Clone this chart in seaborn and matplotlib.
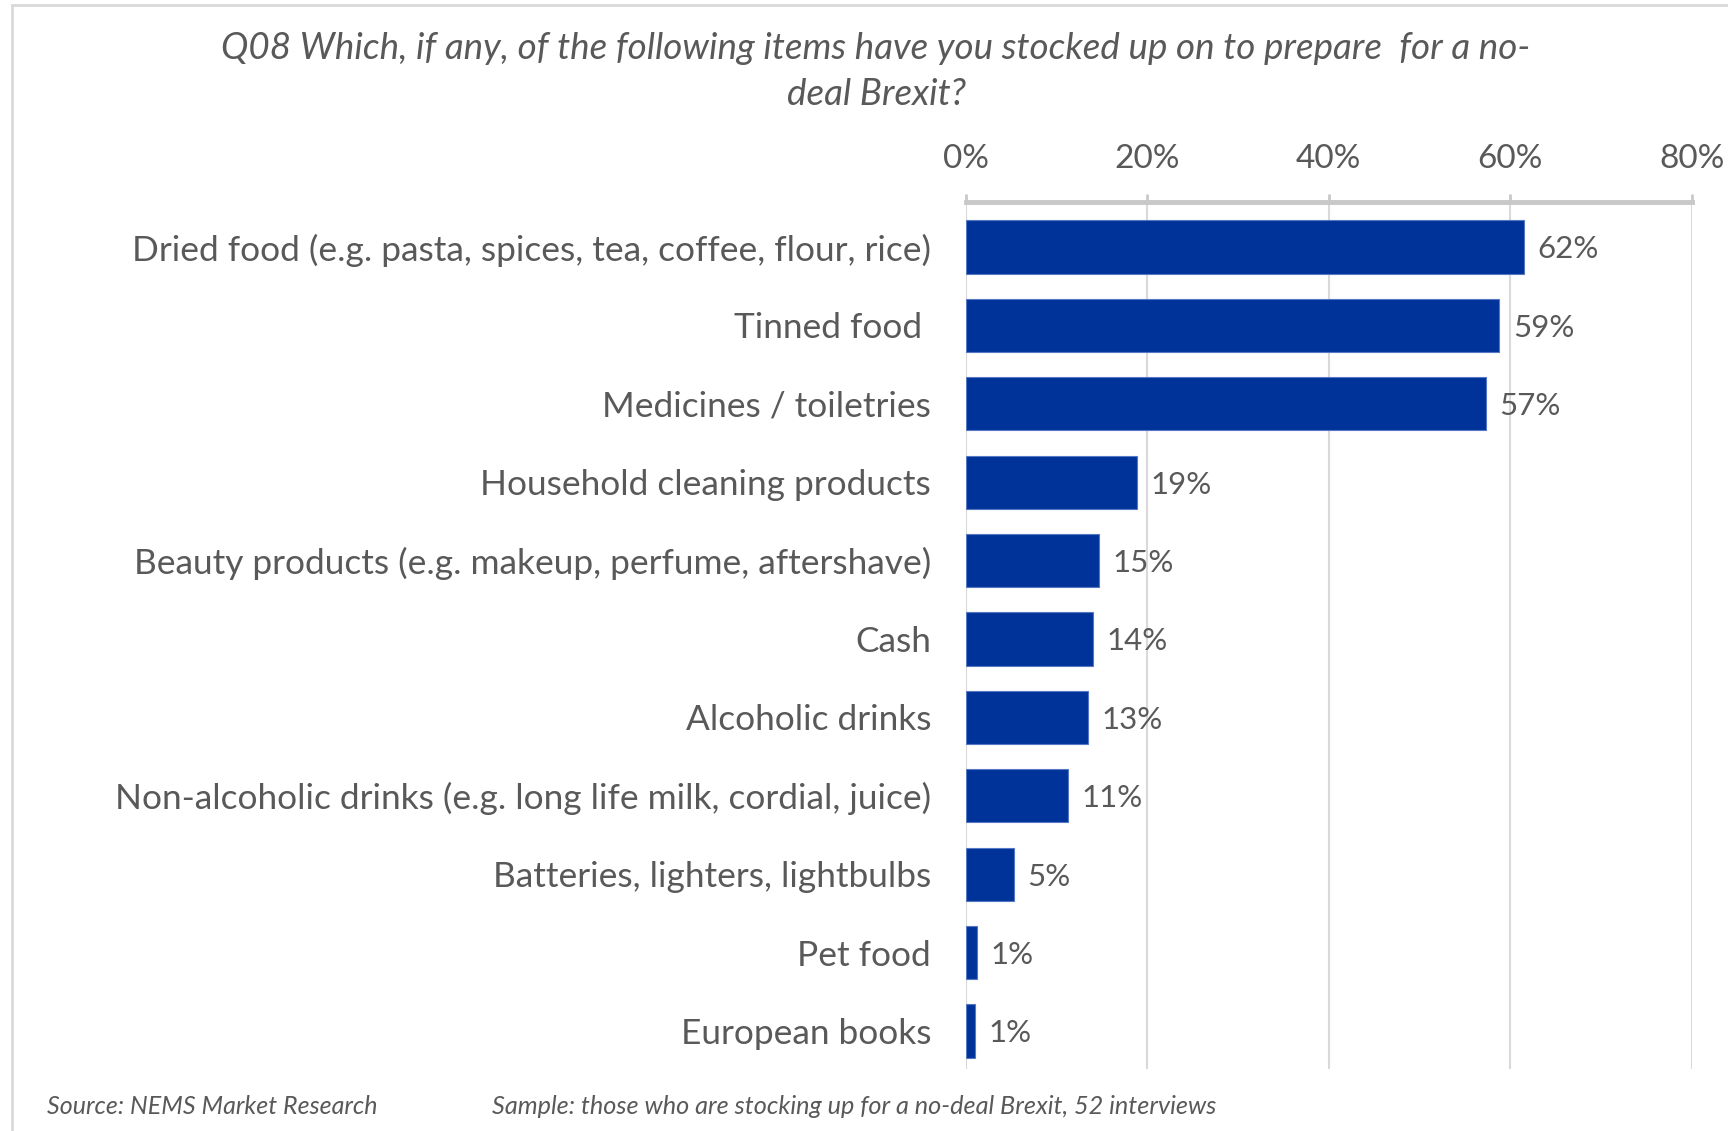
import pandas as pd
import matplotlib.pyplot as plt
import seaborn as sns
from matplotlib.patches import Rectangle


# =====================
# Data
# =====================

items = [
    "Dried food (e.g. pasta, spices, tea, coffee, flour, rice)",
    "Tinned food ",
    "Medicines / toiletries",
    "Household cleaning products",
    "Beauty products (e.g. makeup, perfume, aftershave)",
    "Cash",
    "Alcoholic drinks",
    "Non-alcoholic drinks (e.g. long life milk, cordial, juice)",
    "Batteries, lighters, lightbulbs",
    "Pet food",
    "European books",
]

share = [61.5, 58.8, 57.3, 18.8, 14.7, 14.0, 13.4, 11.2, 5.3, 1.2, 1.0]

share_labels = ["62%", "59%", "57%", "19%", "15%", "14%", "13%", "11%", "5%", "1%", "1%"]

x_ticks = [0, 20, 40, 60, 80]
x_tick_labels = ["0%", "20%", "40%", "60%", "80%"]

title = "Q08 Which, if any, of the following items have you stocked up on to prepare  for a no-\ndeal Brexit?"
source_note = "Source: NEMS Market Research"
sample_note = "Sample: those who are stocking up for a no-deal Brexit, 52 interviews"


df = pd.DataFrame({
    "Item": items,
    "Share": share
})


# =====================
# Style
# =====================

sns.set_style("white")

plt.rcParams["font.family"] = ["Lato", "DejaVu Sans"]

text_grey = "#595959"
bar_blue = "#003399"


# =====================
# Plot
# =====================

fig = plt.figure(
    figsize=(17.28, 11.31),
    dpi=100
)

ax = fig.add_axes([0.559, 0.0548, 0.42, 0.7666])

sns.barplot(
    data=df,
    x="Share",
    y="Item",
    orient="h",
    color=bar_blue,
    saturation=1,
    width=0.68,
    edgecolor="#5577c4",
    linewidth=0.8,
    ax=ax
)

ax.set_xlim(0, 80)
ax.set_ylim(len(items) - 1 + 0.485, -0.574)

ax.xaxis.tick_top()
ax.set_xticks(x_ticks)
ax.set_xticklabels(x_tick_labels)

ax.tick_params(
    axis="x",
    direction="out",
    length=6,
    width=2,
    color="#c8c8c8",
    pad=14,
    labelsize=24,
    labelcolor=text_grey
)

ax.tick_params(
    axis="y",
    length=0,
    pad=25,
    labelsize=25.4,
    labelcolor=text_grey
)

ax.set_xlabel("")
ax.set_ylabel("")

ax.grid(
    axis="x",
    color="#d9d9d9",
    linewidth=1.5
)
ax.set_axisbelow(True)

for side in ["left", "right", "bottom"]:
    ax.spines[side].set_visible(False)

ax.spines["top"].set_color("#c8c8c8")
ax.spines["top"].set_linewidth(3.5)


# value labels
for i, lab in enumerate(share_labels):
    ax.text(
        share[i] + 1.5,
        i + 0.03,
        lab,
        va="center",
        ha="left",
        fontsize=22.5,
        color=text_grey
    )


# =====================
# Title / notes
# =====================

fig.text(
    0.507,
    0.972,
    title,
    ha="center",
    va="top",
    fontsize=26.5,
    style="italic",
    color=text_grey,
    linespacing=1.5
)

fig.text(
    0.027,
    0.022,
    source_note,
    ha="left",
    va="center",
    fontsize=18,
    style="italic",
    color=text_grey
)

fig.text(
    0.285,
    0.022,
    sample_note,
    ha="left",
    va="center",
    fontsize=18.2,
    style="italic",
    color=text_grey
)


# frame
fig.patches.append(
    Rectangle(
        (0.007, -0.1),
        1.2,
        1.0956,
        transform=fig.transFigure,
        fill=False,
        edgecolor="#d9d9d9",
        linewidth=2
    )
)


plt.savefig(
    "out.png",
    dpi=100
)

plt.close()
